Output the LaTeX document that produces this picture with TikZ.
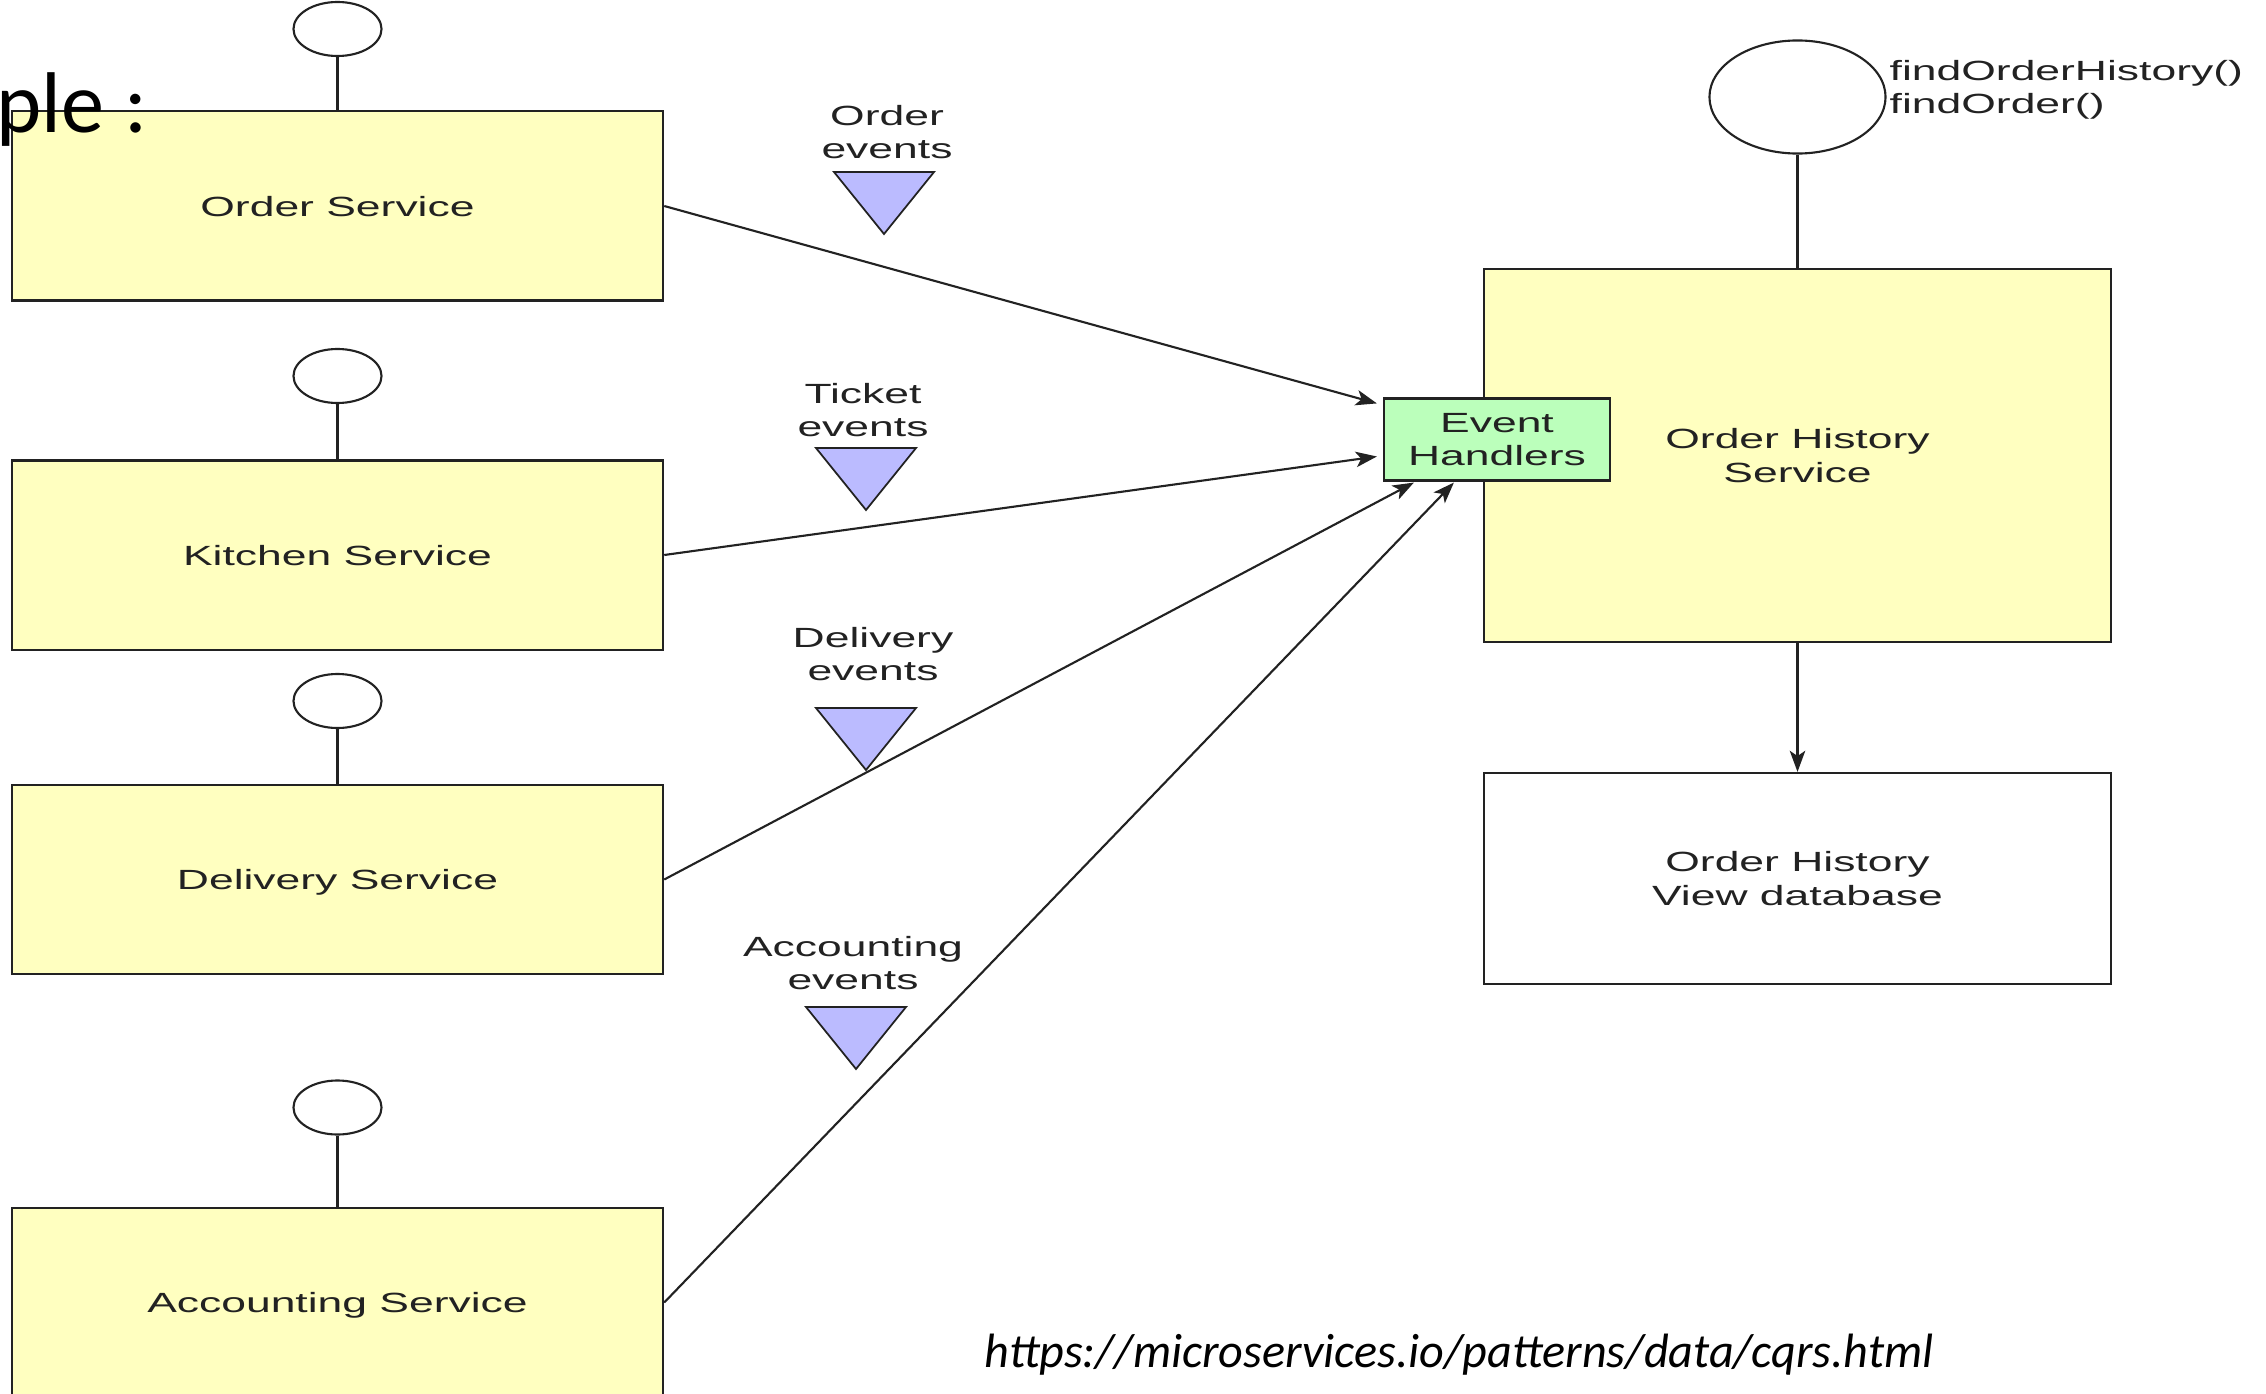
\documentclass[tikz,border=0pt]{standalone}
\usepackage{fontspec}
\setmainfont{Liberation Sans}
\newfontfamily\diagfont[FakeStretch=1.6]{Liberation Sans}
\newfontfamily\slidefont{Carlito}
\usetikzlibrary{shapes.geometric,arrows.meta,calc}

\definecolor{svcyellow}{HTML}{FFFFC0}
\definecolor{handlergreen}{HTML}{BBFFBB}
\definecolor{eventblue}{HTML}{BBBBFF}
\definecolor{inkgray}{HTML}{222222}

\tikzset{
  diag/.style={font=\diagfont\fontsize{7.9}{9.5}\selectfont, text=inkgray, text depth=0pt},
  svcbox/.style={diag, draw=inkgray, line width=0.6pt, fill=svcyellow, rectangle,
    inner sep=0pt, minimum width=6.51cm, minimum height=1.89cm},
  iface/.style={draw=inkgray, line width=0.6pt, fill=white, ellipse, inner sep=0pt,
    minimum width=0.88cm, minimum height=0.54cm},
  evlabel/.style={diag, align=center, inner sep=0pt},
  flow/.style={draw=inkgray, line width=0.6pt, -{Stealth[length=6pt,width=4.4pt,inset=1.5pt]}},
  stem/.style={draw=inkgray, line width=0.6pt},
  evmark/.pic={\filldraw[fill=eventblue, draw=inkgray, line width=0.5pt]
    (-50,0) -- (50,0) -- (0,62) -- cycle;},
}

\begin{document}
\begin{tikzpicture}[x=0.01cm, y=-0.01cm]
  \useasboundingbox (0,0) rectangle (2266,1394);
  \fill[white] (0,0) rectangle (2266,1394);

  % publishing services
  \node[svcbox] (os) at (337.5,206)   {Order Service};
  \node[svcbox] (ks) at (337.5,555)   {Kitchen Service};
  \node[svcbox] (ds) at (337.5,879.5) {Delivery Service};
  \node[svcbox] (as) at (337.5,1302.5){Accounting Service};

  % provided interfaces
  \node[iface] (osI) at (337.5,29)    {};
  \node[iface] (ksI) at (337.5,376)   {};
  \node[iface] (dsI) at (337.5,701)   {};
  \node[iface] (asI) at (337.5,1107.5){};
  \draw[stem] (osI) -- (os);
  \draw[stem] (ksI) -- (ks);
  \draw[stem] (dsI) -- (ds);
  \draw[stem] (asI) -- (as);

  % query side
  \node[svcbox, align=center, minimum width=6.27cm, minimum height=3.73cm]
    (ohs) at (1797.5,455.5) {Order History\\Service};
  \node[svcbox, align=center, fill=white, minimum width=6.27cm, minimum height=2.11cm]
    (db) at (1797.5,878.5) {Order History\\View database};
  \node[svcbox, align=center, fill=handlergreen, minimum width=2.26cm, minimum height=0.82cm]
    (eh) at (1497,439.5) {Event\\Handlers};

  \node[iface, minimum width=1.76cm, minimum height=1.13cm] (ohsI) at (1797.5,97) {};
  \draw[stem] (ohsI) -- (ohs);
  \node[diag, anchor=west, align=left, inner sep=0pt] (ops) at (1889,87)
    {findOrderHistory()\\findOrder()};

  \draw[flow] (ohs) -- (db);

  % event channels
  \pic at (884,172)  {evmark};
  \pic at (866,448)  {evmark};
  \pic at (866,708)  {evmark};
  \pic at (856,1007) {evmark};
  \node[evlabel] (oev) at (887,132) {Order\\events};
  \node[evlabel] (kev) at (863,410) {Ticket\\events};
  \node[evlabel] (dev) at (873,654) {Delivery\\events};
  \node[evlabel] (aev) at (853,963) {Accounting\\events};

  % event flows into the handlers
  \coordinate (tipO) at ($(eh.north west)+(-6,6)$);
  \coordinate (tipK) at ($(eh.west)+(-6,17)$);
  \coordinate (tipD) at ($(eh.south west)+(31,1)$);
  \coordinate (tipA) at ($(eh.south west)+(71,1)$);
  \draw[flow] (os.east) -- (tipO);
  \draw[flow] (ks.east) -- (tipK);
  \draw[flow] (ds.east) -- (tipD);
  \draw[flow] (as.east) -- (tipA);

  % slide text
  \node[anchor=base west, inner sep=0pt, font=\slidefont\fontsize{24.5}{29}\selectfont]
    (slidehead) at (-4,133) {ple :};
  \node[anchor=base west, inner sep=0pt, font=\slidefont\itshape\fontsize{13.7}{16}\selectfont]
    (srcurl) at (984,1367) {https://microservices.io/patterns/data/cqrs.html};
\end{tikzpicture}
\end{document}
